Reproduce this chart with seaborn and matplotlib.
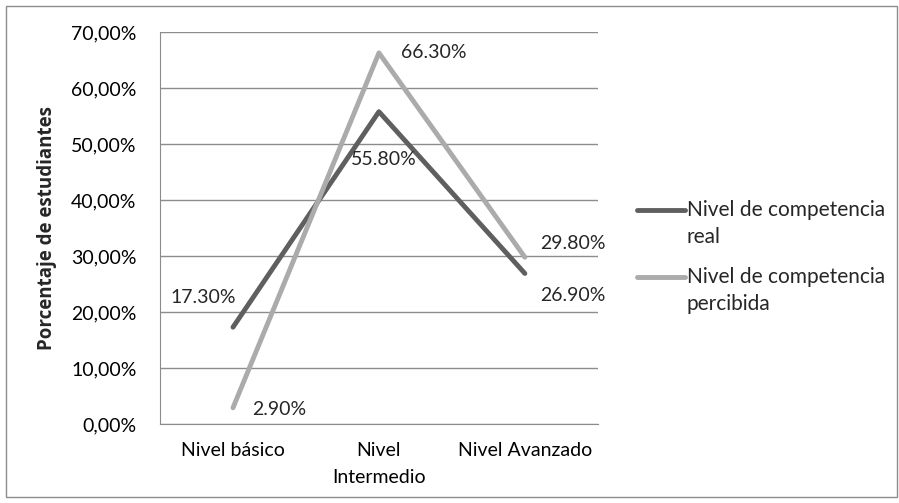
import pandas as pd
import seaborn as sns
import matplotlib.pyplot as plt
import matplotlib.transforms as mtransforms
from matplotlib.patches import Rectangle
from matplotlib.ticker import FuncFormatter

categorias = ['Nivel básico', 'Nivel\nIntermedio', 'Nivel Avanzado']
real = [0.173, 0.558, 0.269]
percibida = [0.029, 0.663, 0.298]
series = ['Nivel de competencia\nreal', 'Nivel de competencia\npercibida']

df = pd.DataFrame({
    'pos': list(range(3)) * 2,
    'valor': real + percibida,
    'serie': [series[0]] * 3 + [series[1]] * 3,
})

sns.set_style('white')
plt.rcParams['font.family'] = ['Lato', 'DejaVu Sans']

fig = plt.figure(figsize=(8.99, 5.03), dpi=100)
ax = fig.add_axes([0.178, 0.157, 0.487, 0.779])

sns.lineplot(data=df, x='pos', y='valor', hue='serie',
             palette=['#5f5f5f', '#ababab'], linewidth=3.5, ax=ax,
             legend=True)

ax.set_xlim(-0.5, 2.5)
ax.set_ylim(0, 0.70)
ax.set_yticks([i / 10 for i in range(8)])
ax.yaxis.set_major_formatter(FuncFormatter(lambda v, p: f'{v*100:.2f}%'.replace('.', ',')))
ax.set_xticks(range(3))
ax.set_xticklabels(categorias, linespacing=1.7)
ax.tick_params(axis='both', labelsize=14, length=0, colors='black')
ax.tick_params(axis='x', pad=13)
ax.tick_params(axis='y', pad=17)
ax.grid(axis='y', color='#8c8c8c', linewidth=1)
for s in ['top', 'right']:
    ax.spines[s].set_visible(False)
for s in ['left', 'bottom']:
    ax.spines[s].set_color('#8c8c8c')
ax.set_xlabel('')
ax.set_ylabel('Porcentaje de estudiantes', fontsize=13.5, fontweight='bold',
              family='Open Sans', labelpad=10)

# etiquetas de datos (desplazamiento en pixeles)
fs = 14
etiquetas = [
    (0, real[0], -63, 30),
    (0, percibida[0], 19, -2),
    (1, real[1], -28, -48),
    (1, percibida[1], 22, 0),
    (2, percibida[2], 15, 14),
    (2, real[2], 15, -22),
]
for x, y, dx, dy in etiquetas:
    ax.annotate(f'{y*100:.2f}%', (x, y), xytext=(dx, dy), textcoords='offset pixels',
                fontsize=fs, ha='left', va='center')

leg = ax.legend(loc='center left', bbox_to_anchor=(618 / 899, 1 - 257 / 503),
                bbox_transform=fig.transFigure, frameon=False,
                fontsize=15, handlelength=2.3, handletextpad=0.1, labelspacing=1.0)
for t in leg.get_texts():
    t.set_linespacing(1.4)
subir = mtransforms.ScaledTranslation(0, 14 / 100, fig.dpi_scale_trans)
for ln in leg.get_lines():
    ln.set_transform(ln.get_transform() + subir)

fig.patches.append(Rectangle((6 / 899, 6 / 503), 891 / 899, 491 / 503,
                             transform=fig.transFigure, fill=False,
                             edgecolor='#8c8c8c', linewidth=1))

fig.savefig('out.png', dpi=100)
